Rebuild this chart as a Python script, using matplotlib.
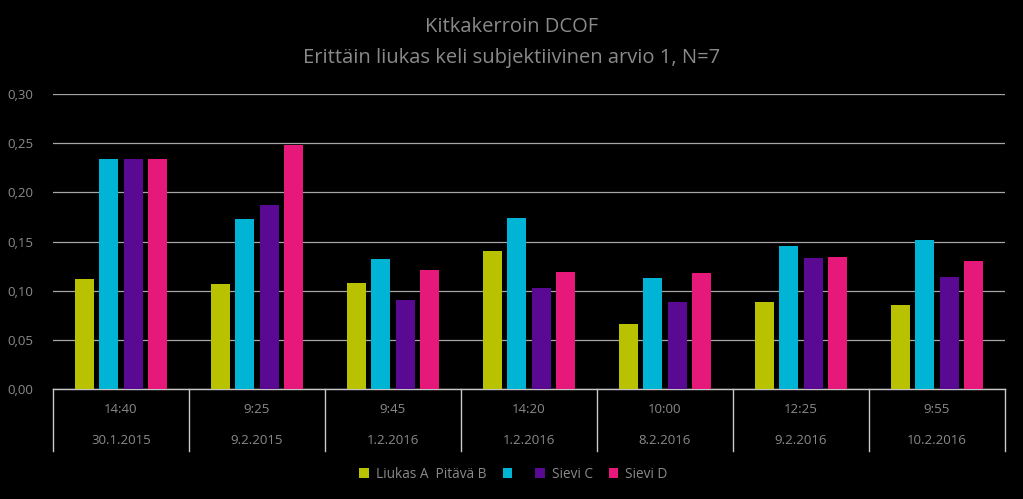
import numpy as np
import matplotlib.pyplot as plt
import matplotlib.transforms as mtransforms
from matplotlib.ticker import FuncFormatter

plt.rcParams['font.family'] = ['Open Sans', 'DejaVu Sans']

times = ["14:40", "9:25", "9:45", "14:20", "10:00", "12:25", "9:55"]
dates = ["30.1.2015", "9.2.2015", "1.2.2016", "1.2.2016", "8.2.2016", "9.2.2016", "10.2.2016"]
series = ["Liukas A", "Pitävä B", "Sievi C", "Sievi D"]
liukas_a = [0.112, 0.107, 0.108, 0.140, 0.066, 0.088, 0.085]
pitava_b = [0.234, 0.173, 0.132, 0.174, 0.113, 0.145, 0.152]
sievi_c = [0.234, 0.187, 0.091, 0.103, 0.088, 0.133, 0.114]
sievi_d = [0.234, 0.248, 0.121, 0.119, 0.118, 0.134, 0.130]
# legend in the original reads "Liukas A  Pitävä B" on the first entry
legend_labels = ["Liukas A  Pitävä B", "", "Sievi C", "Sievi D"]
colors = ["#b8c200", "#00b4d6", "#5a0a92", "#e6187a"]

bg = "#000000"
txt = "#8a8a8a"
grid = "#a6a6a6"

fig = plt.figure(figsize=(10.23, 4.99), dpi=100, facecolor=bg)
ax = fig.add_axes([0.0518, 0.2204, 0.9306, 0.5912], facecolor=bg)

x = np.arange(len(times))
values = [liukas_a, pitava_b, sievi_c, sievi_d]
w = 0.14
step = 0.18
handles = []
for i, (vals, c) in enumerate(zip(values, colors)):
    b = ax.bar(x + (i - 1.5) * step, vals, width=w, color=c, label=series[i], zorder=3)
    handles.append(b)

ax.set_xlim(-0.5, len(times) - 0.5)
ax.set_ylim(0, 0.30)
ax.set_yticks(np.arange(0, 0.301, 0.05))
ax.yaxis.set_major_formatter(FuncFormatter(lambda v, p: f"{v:.2f}".replace(".", ",")))
ax.tick_params(axis='y', length=0, pad=14, labelcolor=txt, labelsize=9.5)
ax.set_xticks([])
ax.grid(axis='y', color=grid, linewidth=0.9, zorder=0)
for s in ["top", "right", "left"]:
    ax.spines[s].set_visible(False)
ax.spines["bottom"].set_color("#c8c8c8")
ax.spines["bottom"].set_linewidth(1.0)

# two-level category table under the axis
trans = mtransforms.blended_transform_factory(ax.transData, ax.transAxes)
for b in np.arange(-0.5, len(times), 1.0):
    ax.plot([b, b], [0, -0.21], transform=trans, color="#c8c8c8", linewidth=1.0, clip_on=False)
for xi, t, d in zip(x, times, dates):
    ax.text(xi, -0.071, t, transform=trans, ha='center', va='center', color=txt, fontsize=9.5)
    ax.text(xi, -0.176, d, transform=trans, ha='center', va='center', color=txt, fontsize=9.5)

fig.text(0.5, 0.946, "Kitkakerroin DCOF", ha='center', va='center', color=txt, fontsize=14.5)
fig.text(0.5, 0.884, "Erittäin liukas keli subjektiivinen arvio 1, N=7", ha='center', va='center',
         color=txt, fontsize=14.5)

leg = fig.legend(handles, legend_labels, loc='center', bbox_to_anchor=(0.502, 0.05), ncol=4,
                 frameon=False, fontsize=9.8, handlelength=0.7, handleheight=0.7,
                 handletextpad=0.5, columnspacing=1.2, labelcolor=txt)

fig.savefig("out.png", dpi=100, facecolor=bg)
